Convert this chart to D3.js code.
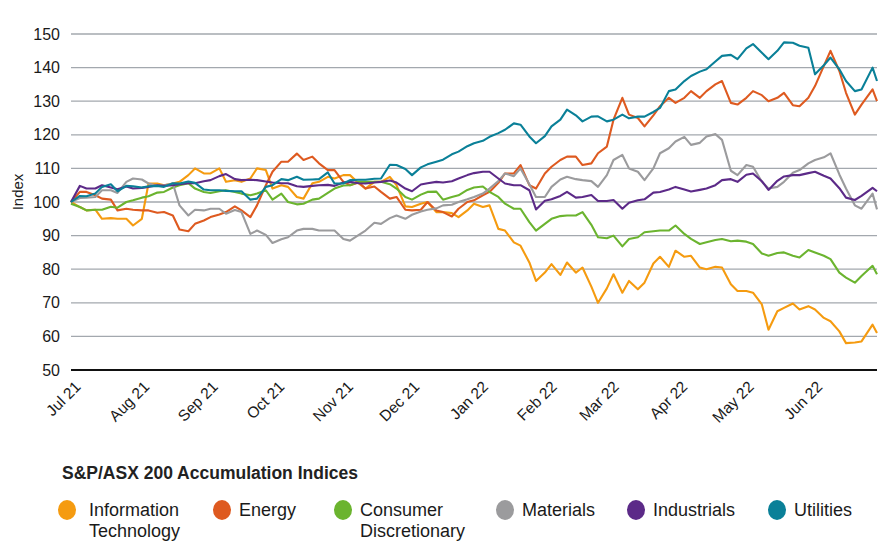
<!DOCTYPE html>
<html>
<head>
<meta charset="utf-8">
<script src="https://cdn.jsdelivr.net/npm/d3@7"></script>
<style>
  body { margin: 0; background: #fff; }
  svg { display: block; font-family: "Liberation Sans", Arial, sans-serif; }
</style>
</head>
<body>
<svg id="chart" width="891" height="542"></svg>
<script>
// twice-weekly readings (Mon / Thu) plus the last days of June
const dates = [
  "2021-07-01","2021-07-05","2021-07-08","2021-07-12","2021-07-15","2021-07-19","2021-07-22","2021-07-26","2021-07-29",
  "2021-08-02","2021-08-05","2021-08-09","2021-08-12","2021-08-16","2021-08-19","2021-08-23","2021-08-26","2021-08-30",
  "2021-09-02","2021-09-06","2021-09-09","2021-09-13","2021-09-16","2021-09-20","2021-09-23","2021-09-27","2021-09-30",
  "2021-10-04","2021-10-07","2021-10-11","2021-10-14","2021-10-18","2021-10-21","2021-10-25","2021-10-28",
  "2021-11-01","2021-11-04","2021-11-08","2021-11-11","2021-11-15","2021-11-18","2021-11-22","2021-11-25","2021-11-29",
  "2021-12-02","2021-12-06","2021-12-09","2021-12-13","2021-12-16","2021-12-20","2021-12-23","2021-12-27","2021-12-30",
  "2022-01-03","2022-01-06","2022-01-10","2022-01-13","2022-01-17","2022-01-20","2022-01-24","2022-01-27","2022-01-31",
  "2022-02-03","2022-02-07","2022-02-10","2022-02-14","2022-02-17","2022-02-21","2022-02-24","2022-02-28",
  "2022-03-03","2022-03-07","2022-03-10","2022-03-14","2022-03-17","2022-03-21","2022-03-24","2022-03-28","2022-03-31",
  "2022-04-04","2022-04-07","2022-04-11","2022-04-14","2022-04-18","2022-04-21","2022-04-25","2022-04-28",
  "2022-05-02","2022-05-05","2022-05-09","2022-05-12","2022-05-16","2022-05-19","2022-05-23","2022-05-26","2022-05-30",
  "2022-06-02","2022-06-06","2022-06-09","2022-06-13","2022-06-16","2022-06-20","2022-06-23","2022-06-28","2022-06-30"
];

const infoTech = [
  100,98.5,97.5,97.7,95,95.2,95,95,93, 95,105.5,105.5,105,105.5,106,108,110,108.5,
  108.5,110,106,106.5,106,107,110,109.5,104,
  105,104.5,101.5,101,105.6,106,107.5,107, 108,108,105.5,104,106,106,107.5,105,98.7,
  98.5,99.5,100,97,97,96.7,95.5,97.5,99.5,
  98.5,99,92,91.5,88,87,82,76.5,79, 81.5,78.3,82,79,80.5,74.8,70,74.3,
  78.5,73,76.5,74,76,81.7,83.7,80.7,85.5,
  83.7,84,80.5,80,80.7,80.5,75.5,73.5, 73.5,73,69.5,62,67.5,68.5,69.8,68,69,
  68,65.5,64.5,61.5,58,58.2,58.5,63.5,61];
const energy = [
  100,103,103,102,101,100.7,97.5,98,97.7, 97.5,97.5,96.8,97,96,91.8,91.3,93.5,94.5,
  95.5,96.3,97,98.7,97.5,95.5,99,105,109,
  112,112,114.4,112.5,113.5,111.5,109.5,109.5, 106,105,105.8,104,104.6,103,101,101.5,97.7,
  97.5,97.7,100,97.5,97,95.7,98,100,100.5,
  102,103,105.7,108.5,108.5,111,105,104,108.5, 110.5,112.5,113.5,113.5,111,111.5,114.5,116.5,
  124.5,131,126,125,122.5,125.8,128.5,131,129.5,
  131,133,131,133,135,136,129.5,129, 131,133,131.8,130,131,132.5,128.8,128.5,131,
  134.5,140.5,145,139,132.5,126,129,133.5,130];
const consDisc = [
  99.5,98.5,97.5,97.7,97.7,98.6,98.3,100,100.5, 101.3,101.7,102.8,103,104.3,105,105.6,104,103,
  102.7,103.2,103.5,103,102.5,102,102.5,103.5,100.7,
  102.5,100,99.3,99.5,100.7,101,102.7,104, 104.9,105,106,106,106,106,105.3,104,101.5,
  100.7,102.2,103,103.1,100.7,101.5,102,103.6,104.3,
  104.6,103,101.5,99.5,98,98,94,91.5,93.5, 95,95.8,96,96,97,93.2,89.5,89.2,
  90,86.8,89,89.5,91,91.3,91.5,91.5,93,
  90.5,89,87.5,88,88.7,89,88.3,88.5, 88.2,87.5,84.7,84,84.8,85,84,83.5,85.7,
  85,84,83,79,77.5,76,78,81,78.5];
const materials = [
  100,101.2,101.3,101.5,103.5,103.5,102.7,106,107, 106.7,105.5,104.8,105,105.5,99,96,97.7,97.5,
  98,98,96.5,97.6,97,90.5,91.5,90.2,87.8,
  88.9,89.5,91.5,92,92,91.5,91.5,91.5, 89,88.5,90.2,91.5,93.8,93.5,95.2,96,95,
  96.2,97.2,97.7,98.1,99,99.2,100,100.8,101.5,
  102.5,104,106.2,108.5,107.7,110,105.3,101.5,101.5, 104.5,106.7,107.5,106.8,106.5,106.2,104.5,108,
  112.5,114,110,109,106.5,110,114.5,116,118,
  119.4,117,117.6,119.5,120.2,118.5,109.3,108, 111,110.5,106,104,104.5,106,108.7,109.5,111.5,
  112.5,113.3,114.5,108.2,104,99,98,102.5,97.8];
const industrials = [
  100,104.8,104,104,105,104.3,103.8,104.6,104, 104.2,104.5,105,104.8,105,105.3,105.6,105.6,106.2,
  106.5,107.7,108.3,106.8,106.5,106.6,106.5,106.1,105.8,
  105.6,105.6,104.7,104.5,104.8,105,105.1,104.8, 105.8,106,105.6,105.5,105.8,106,106.4,105.8,104,
  103.2,105.2,105.6,106,105.8,106.2,107,108,108.6,
  109,109,107,105.5,105,105,103.5,97.8,100.4, 100.8,101.8,103,101.3,101.5,102.1,100.3,100.3,
  100.6,98,99.8,100.5,100.8,102.8,103,103.7,104.5,
  103.7,103.1,103.6,104,105,106.5,106.8,106, 108.1,108.5,106.2,103.6,106.3,107.6,108,108,108.6,
  109,107.8,107,104.1,101.3,100.6,101.8,104.2,103.2];
const utilities = [
  100,101.8,101.7,102.5,104.5,105.3,103.2,104.8,104.7, 104.3,104.7,104.8,104.5,105.6,105.5,106.1,105.7,103.7,
  103.5,103.5,103.3,103.2,103.2,100.7,101,104.5,105,
  106.8,106.5,107.5,106.6,106.7,106.8,108.8,105.5, 105.5,106.5,106.6,106.6,106.9,107,111.1,111,109.8,
  108,110.3,111.2,112,112.6,114.2,115,116.6,117.5,
  118.2,119.4,120.5,121.5,123.4,123,119.5,117.5,119.6, 122.5,124.5,127.5,125.8,124,125.4,125.5,124,
  124.5,126,124.9,125.4,125.4,126.8,128,133,133.5,
  136,137.5,138.8,139.5,141.8,143.5,143.8,142.5, 145.7,147,144.4,142.5,145,147.5,147.4,146.5,145.9,
  138,140.7,143,139.5,136,133,133.5,140,136];

const seriesNames = [["Information", "Technology"], ["Energy"], ["Consumer", "Discretionary"], ["Materials"], ["Industrials"], ["Utilities"]];
const seriesValues = [infoTech, energy, consDisc, materials, industrials, utilities];
const seriesColors = ["#F59B10", "#DE5A20", "#6BB42F", "#9B9B9D", "#5C2A88", "#0A8098"];
const yTicks = [50, 60, 70, 80, 90, 100, 110, 120, 130, 140, 150];
const legendTitle = "S&P/ASX 200 Accumulation Indices";
const legendX = [67, 222, 343, 505, 636, 777];

const svg = d3.select("#chart");
const parse = d3.timeParse("%Y-%m-%d");
const days = dates.map(parse);

const x = d3.scaleTime().domain([parse("2021-07-01"), parse("2022-06-30")]).range([71, 877]);
const y = d3.scaleLinear().domain([50, 150]).range([370, 34]);

// horizontal grid
svg.append("g").selectAll("line")
  .data(yTicks.filter(d => d > 50))
  .join("line")
  .attr("x1", 71).attr("x2", 877)
  .attr("y1", d => y(d)).attr("y2", d => y(d))
  .attr("stroke", "#A3A8AE")
  .attr("stroke-width", 1.3);

// y labels
const yAxis = d3.axisLeft(y).tickValues(yTicks).tickSize(0).tickPadding(11);
svg.append("g")
  .attr("transform", "translate(71,0)")
  .call(yAxis)
  .call(g => g.select(".domain").remove())
  .selectAll("text")
  .attr("font-size", 16)
  .attr("font-family", "Liberation Sans, Arial, sans-serif")
  .attr("fill", "#1a1a1a");

svg.append("text")
  .attr("transform", "translate(23,192) rotate(-90)")
  .attr("text-anchor", "middle")
  .attr("font-size", 15)
  .attr("fill", "#1a1a1a")
  .text("Index");

// lines
const line = d3.line()
  .x((d, i) => x(days[i]))
  .y(d => y(d));

svg.append("g").selectAll("path")
  .data(seriesValues)
  .join("path")
  .attr("d", d => line(d))
  .attr("fill", "none")
  .attr("stroke", (d, i) => seriesColors[i])
  .attr("stroke-width", 2.1)
  .attr("stroke-linejoin", "round");

// x axis baseline + month labels
svg.append("line")
  .attr("x1", 71).attr("x2", 877)
  .attr("y1", y(50)).attr("y2", y(50))
  .attr("stroke", "#111").attr("stroke-width", 2);

const months = d3.timeMonth.range(parse("2021-07-01"), parse("2022-07-01"));
const fmt = d3.timeFormat("%b %y");
svg.append("g").selectAll("text")
  .data(months)
  .join("text")
  .attr("transform", d => "translate(" + (x(d) + 3) + ",380) rotate(-45)")
  .attr("text-anchor", "end")
  .attr("dy", "0.7em")
  .attr("font-size", 15.5)
  .attr("fill", "#1a1a1a")
  .text(d => fmt(d));

// legend
svg.append("text")
  .attr("x", 62).attr("y", 479)
  .attr("font-size", 17.5)
  .attr("font-weight", "bold")
  .attr("fill", "#222")
  .text(legendTitle);

const items = svg.append("g").selectAll("g")
  .data(seriesNames)
  .join("g")
  .attr("transform", (d, i) => "translate(" + legendX[i] + ",510)");

items.append("ellipse")
  .attr("rx", 9).attr("ry", 10)
  .attr("fill", (d, i) => seriesColors[i]);

items.append("text")
  .attr("x", (d, i) => i == 0 ? 22 : 17)
  .attr("y", 6)
  .attr("font-size", 18)
  .attr("fill", "#1a1a1a")
  .selectAll("tspan")
  .data(d => d)
  .join("tspan")
  .attr("x", function() { return d3.select(this.parentNode).attr("x"); })
  .attr("dy", (d, i) => i == 0 ? 0 : 21)
  .text(d => d);
</script>
</body>
</html>
